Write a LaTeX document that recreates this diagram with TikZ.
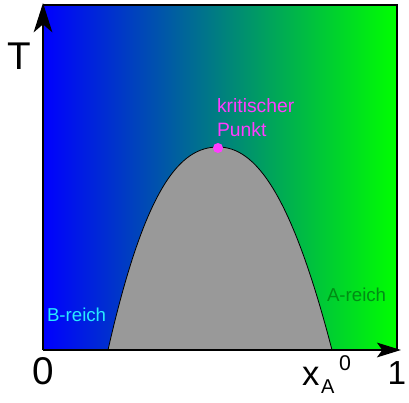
\documentclass[tikz,border=0pt]{standalone}
\usepackage{fontspec}
\setmainfont{Liberation Sans}
\usetikzlibrary{arrows.meta}
\definecolor{domegray}{RGB}{153,153,153}
\definecolor{kritcol}{RGB}{255,60,255}
\definecolor{adark}{RGB}{0,140,20}
\definecolor{bcyan}{RGB}{40,235,255}
\begin{document}
\begin{tikzpicture}[x=0.75pt,y=-0.75pt,
  lbl/.style={inner sep=0pt,outer sep=0pt},
  axis/.style={line width=1.6pt}]
\useasboundingbox (0,0) rectangle (409,402);
% background gradient
\shade[left color=blue,right color=green] (43,5) rectangle (397,350);
\draw[line width=1.5pt] (43,5) -- (397,5) -- (397,350);
% dome
\draw[fill=domegray,line width=0.6pt] (108,350)
  .. controls (145,187) and (180,147) .. (218,147)
  .. controls (255,147) and (291,192) .. (332,350) -- cycle;
% critical point
\node[circle,fill=kritcol,inner sep=0pt,minimum size=7.5pt] (kp) at (218,148) {};
% axes
\coordinate (o) at (43,350);
\coordinate (ty) at (43,3);
\coordinate (tx) at (401,350);
\draw[axis,-{Stealth[length=22pt,width=14pt,inset=6pt]}] (o) -- (ty);
\draw[axis,-{Stealth[length=18pt,width=11pt,inset=4pt]}] (o) -- (tx);
% labels
\node[lbl,font=\fontsize{29pt}{29pt}\selectfont] (T) at (19,56) {T};
\node[lbl,font=\fontsize{29pt}{29pt}\selectfont] (zero) at (43,371) {0};
\node[lbl,font=\fontsize{25pt}{25pt}\selectfont] (one) at (397,373) {1};
\node[lbl,anchor=base west,font=\fontsize{26pt}{26pt}\selectfont] (xx) at (302,385) {x};
\node[lbl,anchor=base west,font=\fontsize{15pt}{15pt}\selectfont] (xa) at (321,393) {A};
\node[lbl,anchor=base west,font=\fontsize{16pt}{16pt}\selectfont] (x0) at (339,370) {0};
\node[lbl,anchor=base west,text=kritcol,font=\fontsize{14.5pt}{14.5pt}\selectfont] (k1) at (217,113) {kritischer};
\node[lbl,anchor=base west,text=kritcol,font=\fontsize{14.5pt}{14.5pt}\selectfont] (k2) at (217,137) {Punkt};
\node[lbl,anchor=base west,text=bcyan,font=\fontsize{14pt}{14pt}\selectfont] (br) at (47,321) {B-reich};
\node[lbl,anchor=base west,text=adark,font=\fontsize{14pt}{14pt}\selectfont] (ar) at (327,301) {A-reich};
\end{tikzpicture}
\end{document}
